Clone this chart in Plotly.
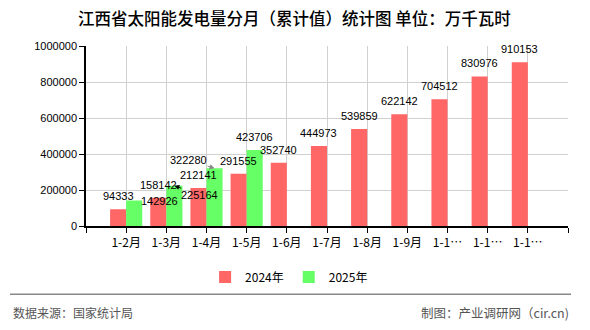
import plotly.graph_objects as go
import numpy as np

# ---------------- data ----------------
categories = ['1-2月', '1-3月', '1-4月', '1-5月', '1-6月', '1-7月', '1-8月',
              '1-9月', '1-10月', '1-11月', '1-12月']
tick_labels = ['1-2月', '1-3月', '1-4月', '1-5月', '1-6月', '1-7月', '1-8月',
               '1-9月', '1-1…', '1-1…', '1-1…']
values_2024 = [94333, 158142, 212141, 291555, 352740, 444973, 539859,
               622142, 704512, 830976, 910153]
values_2025 = [142926, 225164, 322280, 423706, None, None, None,
               None, None, None, None]
series_names = ['2024年', '2025年']
y_ticks = [0, 200000, 400000, 600000, 800000, 1000000]

title_text = '江西省太阳能发电量分月（累计值）统计图 单位：万千瓦时'
source_text = '数据来源：国家统计局'
credit_text = '制图：产业调研网（cir.cn)'

# ---------------- layout constants ----------------
W, H = 590, 330
ML, MR, MT, MB = 86, 22, 46, 101
PW, PH = W - ML - MR, H - MT - MB
RED, GREEN = '#FF6666', '#66FF66'
NUM_FONT = 'Liberation Sans, Arial, sans-serif'
CJK_FONT = 'Noto Sans CJK SC, sans-serif'


def px_x(px):
    return (px - ML) / PW


def px_y(py):
    return (H - MB - py) / PH


idx = np.arange(len(categories))

fig = go.Figure()
fig.add_trace(go.Bar(x=idx, y=values_2024, name=series_names[0],
                     marker=dict(color=RED, line=dict(width=0)),
                     customdata=categories, hovertemplate='%{customdata}: %{y}<extra>2024年</extra>'))
fig.add_trace(go.Bar(x=idx, y=values_2025, name=series_names[1],
                     marker=dict(color=GREEN, line=dict(width=0)),
                     customdata=categories, hovertemplate='%{customdata}: %{y}<extra>2025年</extra>'))

# ---------------- data labels ----------------
# special placements (pixel offsets) for overlapping labels: (series, index) -> style
special = {
    (1, 0): dict(showarrow=False, xshift=25, yanchor='middle'),
    (1, 1): dict(showarrow=True, ax=25, ay=9, arrowcolor='#000000'),
    (1, 2): dict(showarrow=True, ax=-26, ay=-8, arrowcolor='#888888'),
}
annotations = []
for s, (vals, off) in enumerate([(values_2024, -0.2), (values_2025, 0.2)]):
    for i, v in enumerate(vals):
        if v is None:
            continue
        base = dict(x=i + off, y=v, xref='x', yref='y', text=str(v),
                    font=dict(family=NUM_FONT, size=11, color='#000000'),
                    borderpad=0)
        if (s, i) in special:
            sp = special[(s, i)]
            if sp.get('showarrow'):
                base.update(showarrow=True, ax=sp['ax'], ay=sp['ay'],
                            axref='pixel', ayref='pixel', arrowhead=2,
                            arrowsize=1, arrowwidth=1, arrowcolor=sp['arrowcolor'],
                            standoff=0)
            else:
                base.update(showarrow=False, xshift=sp['xshift'],
                            yanchor=sp['yanchor'])
        else:
            base.update(showarrow=False, yanchor='bottom', yshift=6)
        annotations.append(base)

# title and footer
annotations.append(dict(x=px_x(294), y=px_y(18), xref='paper', yref='paper',
                        text=title_text, showarrow=False, xanchor='center', yanchor='middle',
                        font=dict(family=CJK_FONT, size=16.5, color='#000000', weight=500)))
annotations.append(dict(x=px_x(11), y=px_y(316), xref='paper', yref='paper',
                        text=source_text, showarrow=False, xanchor='left', yanchor='middle',
                        font=dict(family=CJK_FONT, size=12, color='#555555')))
annotations.append(dict(x=px_x(571), y=px_y(316), xref='paper', yref='paper',
                        text=credit_text, showarrow=False, xanchor='right', yanchor='middle',
                        font=dict(family=CJK_FONT, size=12.5, color='#555555')))

shapes = [
    dict(type='line', xref='paper', yref='paper', x0=px_x(10), x1=px_x(571),
         y0=px_y(298), y1=px_y(298), line=dict(color='#888888', width=1.5)),
]

fig.update_layout(
    width=W, height=H,
    margin=dict(l=ML, r=MR, t=MT, b=MB, pad=0),
    paper_bgcolor='#FFFFFF', plot_bgcolor='#FFFFFF',
    barmode='group', bargap=0.2, bargroupgap=0,
    showlegend=True,
    legend=dict(orientation='h', xref='container', yref='container',
                x=0.49, xanchor='center', y=(H - 277) / H, yanchor='middle',
                font=dict(family=CJK_FONT, size=12, color='#000000'),
                itemsizing='constant', itemwidth=30, traceorder='normal',
                tracegroupgap=0, bgcolor='rgba(0,0,0,0)'),
    annotations=annotations,
    shapes=shapes,
    xaxis=dict(range=[-1, 11], tickmode='array',
               tickvals=list(range(-1, len(categories) + 1)),
               ticktext=[''] + tick_labels + [''],
               showgrid=True, gridcolor='#D0D0D0', gridwidth=1,
               showline=True, linecolor='#000000', linewidth=1.5,
               ticks='outside', ticklen=5, tickcolor='#000000', tickwidth=1,
               tickfont=dict(family=CJK_FONT, size=12, color='#000000'),
               zeroline=False, fixedrange=True),
    yaxis=dict(range=[0, 1000000], tickmode='array', tickvals=y_ticks,
               ticktext=[str(t) for t in y_ticks],
               showgrid=True, gridcolor='#D0D0D0', gridwidth=1,
               showline=True, linecolor='#000000', linewidth=1.5,
               ticks='outside', ticklen=5, tickcolor='#000000', tickwidth=1,
               tickfont=dict(family=NUM_FONT, size=11, color='#000000'),
               zeroline=False, fixedrange=True),
)

fig.write_html('out.html', include_plotlyjs=True, config={'displayModeBar': False})
